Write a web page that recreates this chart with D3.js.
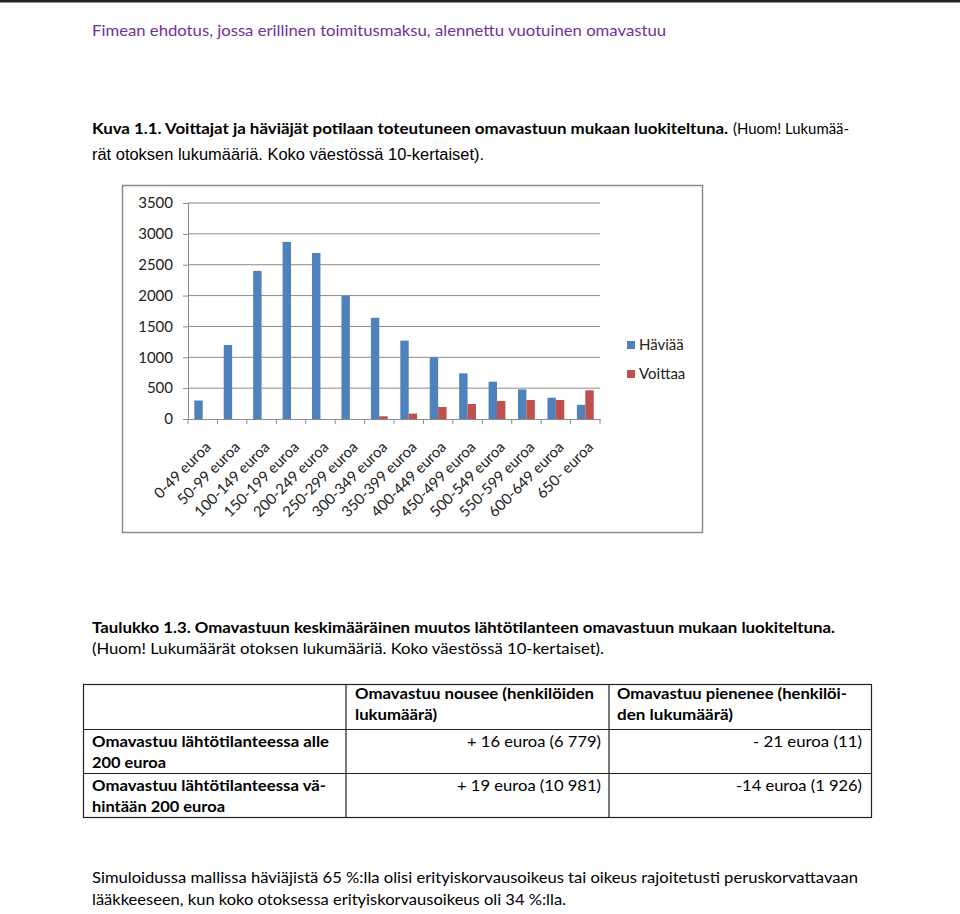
<!DOCTYPE html>
<html><head><meta charset="utf-8">
<script src="https://cdn.jsdelivr.net/npm/d3@7"></script>
<style>body{margin:0;background:#fff} svg{display:block}</style>
</head><body><svg id="c" width="960" height="914"></svg>
<script>
// ---- chart data ----
const categories = ["0-49 euroa","50-99 euroa","100-149 euroa","150-199 euroa","200-249 euroa","250-299 euroa","300-349 euroa","350-399 euroa","400-449 euroa","450-499 euroa","500-549 euroa","550-599 euroa","600-649 euroa","650- euroa"];
const haviaa  = [300, 1200, 2400, 2870, 2690, 2000, 1640, 1270, 1000, 740, 605, 480, 345, 230];
const voittaa = [0, 0, 0, 0, 0, 0, 44, 88, 195, 243, 292, 308, 308, 465];
const seriesNames = ["Häviää", "Voittaa"];
const yTicks = [0, 500, 1000, 1500, 2000, 2500, 3000, 3500];

// ---- table data ----
const tableHeader = [["Omavastuu nousee (henkilöiden", "lukumäärä)"], ["Omavastuu pienenee (henkilöi-", "den lukumäärä)"]];
const rowLabels = [["Omavastuu lähtötilanteessa alle", "200 euroa"], ["Omavastuu lähtötilanteessa vä-", "hintään 200 euroa"]];
const rowRaise = ["+ 16 euroa (6 779)", "+ 19 euroa (10 981)"];
const rowDrop = ["- 21 euroa (11)", "-14 euroa (1 926)"];

const colors = {"Häviää": "#4F81BD", "Voittaa": "#C0504D"};
const FONT = "Lato, 'Open Sans', sans-serif";
const svg = d3.select("#c");

function txt(s, x, y, w, o = {}) {
  const t = svg.append("text").attr("x", x).attr("y", y).text(s)
    .attr("font-family", o.family || FONT)
    .attr("font-size", o.size || 16)
    .attr("font-weight", o.bold ? "bold" : "normal")
    .attr("fill", o.fill || "#000")
    .attr("text-anchor", o.anchor || "start");
  if (w) t.attr("textLength", w).attr("lengthAdjust", "spacingAndGlyphs");
  return t;
}

// top rule
svg.append("rect").attr("x", 0).attr("y", 0).attr("width", 960).attr("height", 2.5).attr("fill", "#222");

// header
txt("Fimean ehdotus, jossa erillinen toimitusmaksu, alennettu vuotuinen omavastuu", 92, 36, 574, {fill: "#7030A0", size: 16});

// figure caption
txt("Kuva 1.1. Voittajat ja häviäjät potilaan toteutuneen omavastuun mukaan luokiteltuna.", 92, 134, 636, {bold: true});
txt("(Huom! Lukumää-", 733, 134, 116, {});
txt("rät otoksen lukumääriä.  Koko väestössä 10-kertaiset).", 92, 160, 392, {family: "'Liberation Sans Narrow', 'Liberation Sans', sans-serif", size: 16});

// ---- chart ----
svg.append("rect").attr("x", 122.5).attr("y", 185.5).attr("width", 580).attr("height", 347)
  .attr("fill", "#fff").attr("stroke", "#8c8c8c").attr("stroke-width", 1.5);

const x = d3.scaleBand().domain(categories).range([188, 600]);
const xs = d3.scaleBand().domain(seriesNames).range([0, x.bandwidth()]).paddingOuter(0.75);
const y = d3.scaleLinear().domain([0, 3500]).range([419, 203]);

// gridlines
svg.append("g").selectAll("line").data(yTicks.filter(d => d > 0)).join("line")
  .attr("x1", 188).attr("x2", 600).attr("y1", d => y(d)).attr("y2", d => y(d))
  .attr("stroke", "#8c8c8c").attr("stroke-width", 1);

// y axis
const ya = svg.append("g").attr("transform", "translate(188,0)")
  .call(d3.axisLeft(y).tickValues(yTicks).tickSize(5).tickPadding(10).tickFormat(d3.format("d")));
ya.select(".domain").attr("stroke", "#8c8c8c");
ya.selectAll(".tick line").attr("stroke", "#8c8c8c");
ya.selectAll("text").attr("font-family", FONT).attr("font-size", 15).attr("fill", "#222");

// bars
const series = [haviaa, voittaa];
series.forEach((vals, si) => {
  const name = seriesNames[si];
  svg.append("g").selectAll("rect").data(categories).join("rect")
    .attr("x", (c) => x(c) + xs(name))
    .attr("width", xs.bandwidth())
    .attr("y", (c, i) => y(vals[i]))
    .attr("height", (c, i) => y(0) - y(vals[i]))
    .attr("fill", colors[name]);
});

// x axis
const xa = svg.append("g").attr("transform", "translate(0,419)")
  .call(d3.axisBottom(x).tickSize(0));
xa.select(".domain").attr("stroke", "#8c8c8c");
xa.selectAll("text").attr("font-family", FONT).attr("font-size", 15).attr("fill", "#222")
  .attr("x", 0).attr("y", 0).attr("dy", 0)
  .attr("text-anchor", "end").attr("transform", "translate(9,29) rotate(-45)");
const bounds = categories.map(c => x(c)).concat([x.range()[1]]);
xa.selectAll(".btick").data(bounds).join("line").attr("class", "btick")
  .attr("x1", d => d).attr("x2", d => d).attr("y1", 0).attr("y2", 5)
  .attr("stroke", "#8c8c8c");

// legend
const lg = svg.append("g");
seriesNames.forEach((n, i) => {
  lg.append("rect").attr("x", 627).attr("y", 341 + i * 29).attr("width", 8).attr("height", 8).attr("fill", colors[n]);
  lg.append("text").attr("x", 639).attr("y", 350 + i * 29).text(n)
    .attr("font-family", FONT).attr("font-size", 15).attr("fill", "#222");
});

// ---- table caption ----
txt("Taulukko 1.3. Omavastuun keskimääräinen muutos lähtötilanteen omavastuun mukaan luokiteltuna.", 92, 633, 743, {bold: true});
txt("(Huom! Lukumäärät otoksen lukumääriä.  Koko väestössä 10-kertaiset).", 92, 654, 512, {});

// ---- table ----
const tg = svg.append("g").attr("stroke", "#222").attr("stroke-width", 1.2);
tg.append("rect").attr("x", 83.5).attr("y", 684.5).attr("width", 788).attr("height", 133).attr("fill", "none");
[346, 609].forEach(v => tg.append("line").attr("x1", v).attr("x2", v).attr("y1", 684.5).attr("y2", 817.5));
[729.5, 773.5].forEach(h => tg.append("line").attr("x1", 83.5).attr("x2", 871.5).attr("y1", h).attr("y2", h));

txt(tableHeader[0][0], 355, 699, 239, {bold: true});
txt(tableHeader[0][1], 355, 720, 82, {bold: true});
txt(tableHeader[1][0], 617, 699, 230, {bold: true});
txt(tableHeader[1][1], 617, 720, 116, {bold: true});

const rowY = [747, 791];
const labW = [[237, 74], [234, 133]];
const raiseW = [134, 144];
const dropW = [109, 126];
rowLabels.forEach((r, i) => {
  txt(r[0], 92, rowY[i], labW[i][0], {bold: true});
  txt(r[1], 92, rowY[i] + 21, labW[i][1], {bold: true});
  txt(rowRaise[i], 601, rowY[i], raiseW[i], {anchor: "end"});
  txt(rowDrop[i], 862, rowY[i], dropW[i], {anchor: "end"});
});

// ---- footer ----
txt("Simuloidussa mallissa häviäjistä 65 %:lla olisi erityiskorvausoikeus tai oikeus rajoitetusti peruskorvattavaan", 92, 883, 766, {});
txt("lääkkeeseen, kun koko otoksessa erityiskorvausoikeus oli 34 %:lla.", 92, 905, 474, {});
</script></body></html>
